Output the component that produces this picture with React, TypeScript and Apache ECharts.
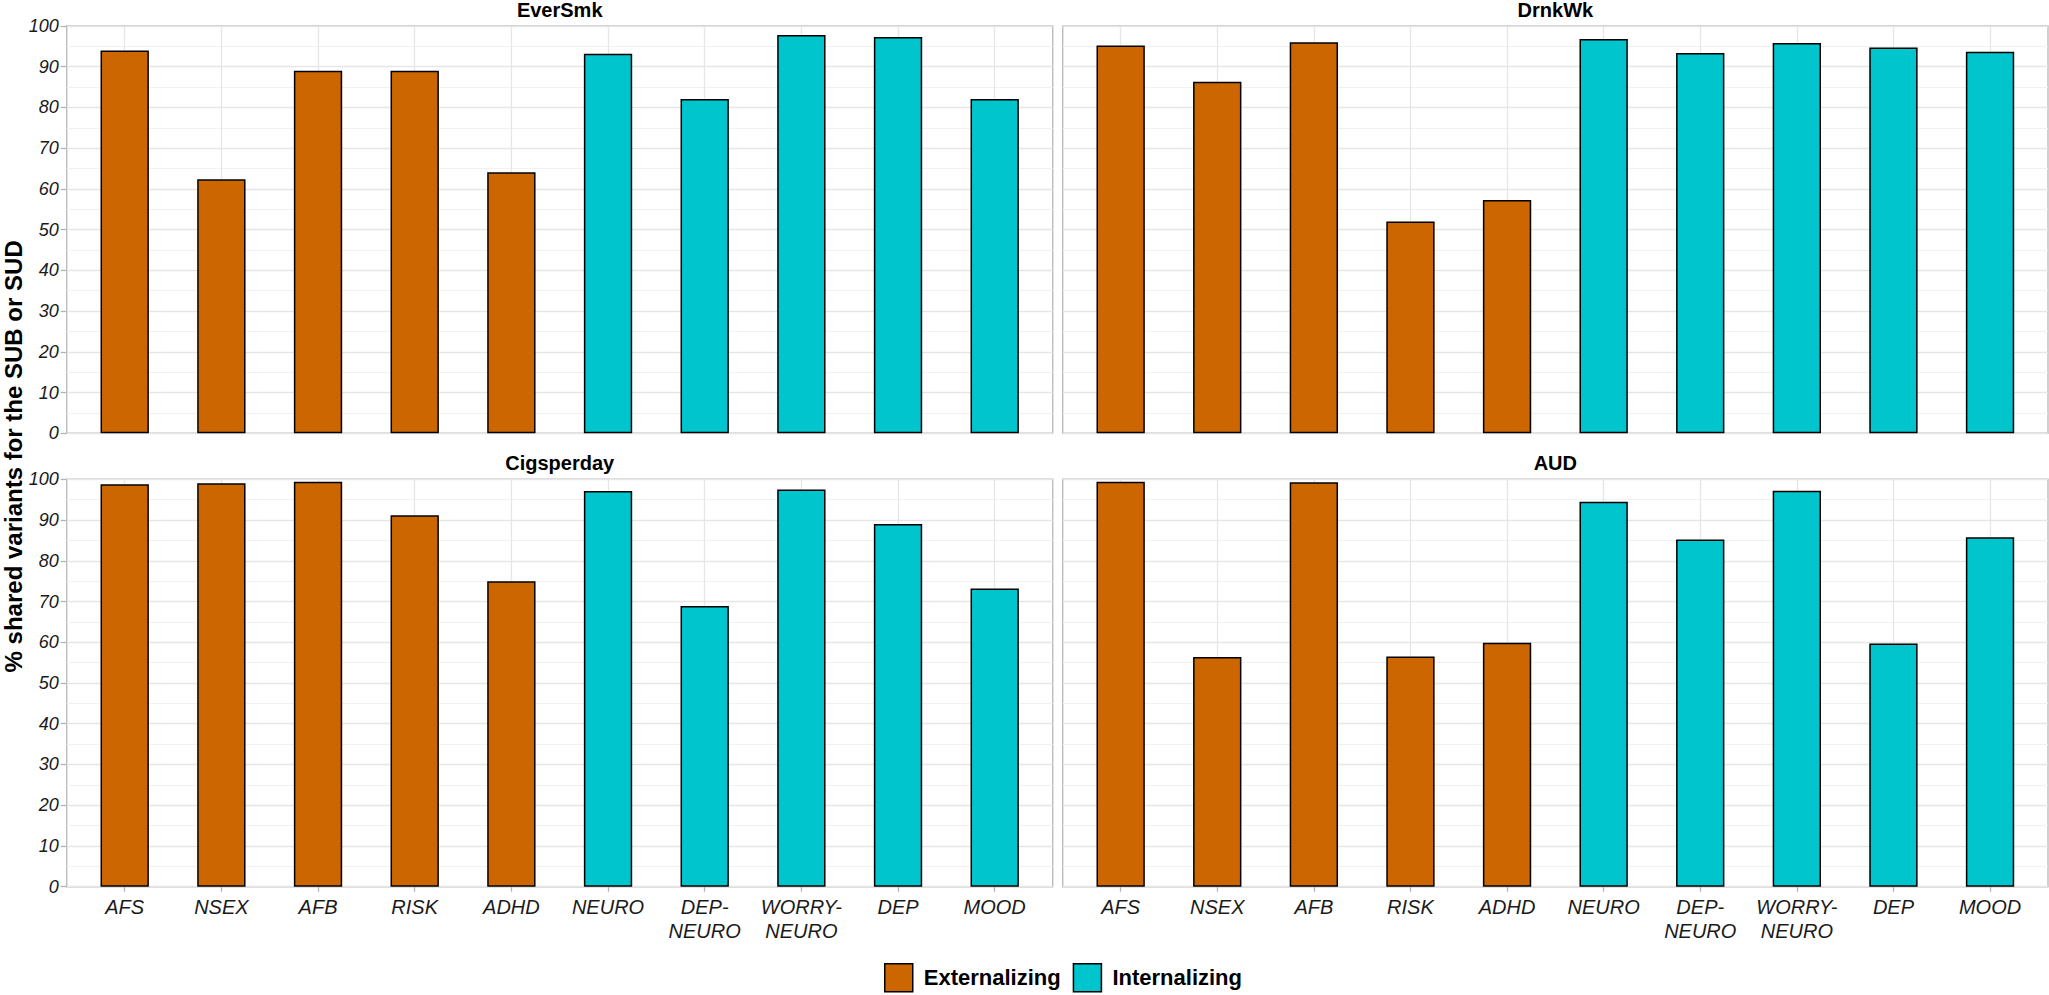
import React, { useEffect, useRef } from "react";
import * as echarts from "echarts";

const categories = ["AFS", "NSEX", "AFB", "RISK", "ADHD", "NEURO", "DEP-NEURO", "WORRY-NEURO", "DEP", "MOOD"];
const groups = ["Externalizing", "Externalizing", "Externalizing", "Externalizing", "Externalizing",
  "Internalizing", "Internalizing", "Internalizing", "Internalizing", "Internalizing"];
const groupNames = ["Externalizing", "Internalizing"];
const panelTitles = ["EverSmk", "DrnkWk", "Cigsperday", "AUD"];

const everSmk = [94.0, 62.4, 89.0, 89.0, 64.1, 93.2, 82.1, 97.8, 97.3, 82.1];
const drnkWk = [95.2, 86.3, 96.0, 52.0, 57.3, 96.8, 93.4, 95.8, 94.7, 93.7];
const cigsperday = [98.8, 99.0, 99.4, 91.2, 75.0, 97.1, 68.9, 97.5, 89.0, 73.2];
const aud = [99.4, 56.4, 99.3, 56.5, 59.9, 94.5, 85.2, 97.2, 59.7, 85.8];

const yMin = 0;
const yMax = 100;
const yStep = 10;
const yTitle = "% shared variants for the SUB or SUD";

const FONT = "'Liberation Sans', Arial, sans-serif";
const COLORS: Record<string, string> = { Externalizing: "#CC6600", Internalizing: "#00C5CD" };

export default function App() {
  const ref = useRef<HTMLDivElement>(null);

  useEffect(() => {
    if (!ref.current) return;
    const chart = echarts.init(ref.current, undefined, { renderer: "svg" });
    const panels = [everSmk, drnkWk, cigsperday, aud];

    const gridBoxes = [
      { left: 66.7, top: 26, width: 986, height: 407.3 },
      { left: 1062.7, top: 26, width: 985.3, height: 407.3 },
      { left: 66.7, top: 479.3, width: 986, height: 407.4 },
      { left: 1062.7, top: 479.3, width: 985.3, height: 407.4 },
    ];
    const expand = 0.6;
    const xMax = categories.length - 1 + 2 * expand;
    const xs = categories.map((_, i) => i + expand);

    const grid = gridBoxes.map((g) => ({
      ...g,
      show: true,
      borderColor: "#bcbcbc",
      borderWidth: 1.4,
      backgroundColor: "transparent",
      containLabel: false,
    }));

    const xAxis = gridBoxes.map((_, p) => ({
      type: "value",
      gridIndex: p,
      min: 0,
      max: xMax,
      axisLine: { show: false },
      axisTick: {
        show: p >= 2,
        customValues: xs,
        length: 5,
        lineStyle: { color: "#b3b3b3", width: 1.3 },
      },
      axisLabel: {
        show: p >= 2,
        customValues: xs,
        formatter: (v: number) => {
          const c = categories[Math.round(v - expand)] || "";
          return c.replace("-", "-\n");
        },
        fontFamily: FONT,
        fontSize: 20,
        fontStyle: "italic",
        color: "#1a1a1a",
        margin: 8,
        lineHeight: 24,
      },
      splitLine: { show: true, lineStyle: { color: "#e6e6e6", width: 1.3 } },
      minorSplitLine: { show: false },
    }));

    const yAxis = gridBoxes.map((_, p) => ({
      type: "value",
      gridIndex: p,
      min: yMin,
      max: yMax,
      interval: yStep,
      axisLine: { show: false },
      axisTick: {
        show: p % 2 === 0,
        length: 6,
        lineStyle: { color: "#b3b3b3", width: 1.3 },
      },
      axisLabel: {
        show: p % 2 === 0,
        fontFamily: FONT,
        fontSize: 18,
        fontStyle: "italic",
        color: "#1a1a1a",
        margin: 8,
      },
      splitLine: { show: true, lineStyle: { color: "#e6e6e6", width: 1.3 } },
      minorTick: { show: false, splitNumber: 2 },
      minorSplitLine: { show: true, lineStyle: { color: "#f1f1f1", width: 1 } },
    }));

    const barWidth = (gridBoxes[0].width / xMax) * 0.5;

    const series: any[] = [];
    panels.forEach((vals, p) => {
      groupNames.forEach((g) => {
        series.push({
          type: "bar",
          name: g,
          xAxisIndex: p,
          yAxisIndex: p,
          stack: "panel" + p,
          barWidth,
          itemStyle: { color: COLORS[g], borderColor: "#000", borderWidth: 1.5 },
          data: vals
            .map((v, i) => (groups[i] === g ? [xs[i], v] : null))
            .filter((d) => d !== null),
        });
      });
    });

    const graphic: any[] = gridBoxes.map((g, p) => ({
      type: "text",
      x: g.left + g.width / 2,
      y: g.top - 16,
      style: {
        text: panelTitles[p],
        align: "center",
        verticalAlign: "middle",
        font: `bold 20px ${FONT}`,
        fill: "#000",
      },
    }));
    graphic.push({
      type: "text",
      x: 13,
      y: (gridBoxes[0].top + gridBoxes[2].top + gridBoxes[2].height) / 2,
      rotation: Math.PI / 2,
      style: {
        text: yTitle,
        align: "center",
        verticalAlign: "middle",
        font: `bold 24px ${FONT}`,
        fill: "#000",
      },
    });

    chart.setOption({
      animation: false,
      backgroundColor: "#fff",
      grid,
      xAxis,
      yAxis,
      series,
      graphic,
      legend: {
        data: groupNames,
        left: 884,
        top: 963,
        orient: "horizontal",
        icon: "rect",
        itemWidth: 28,
        itemHeight: 28,
        itemGap: 12,
        padding: 0,
        selectedMode: false,
        itemStyle: { borderColor: "#000", borderWidth: 1.5 },
        textStyle: {
          fontFamily: FONT,
          fontSize: 22,
          fontWeight: "bold",
          color: "#000",
          padding: [0, 0, 0, 6],
        },
      },
    });

    return () => chart.dispose();
  }, []);

  return (
    <div
      ref={ref}
      style={{ position: "fixed", left: 0, top: 0, width: "2049px", height: "995px" }}
    />
  );
}
